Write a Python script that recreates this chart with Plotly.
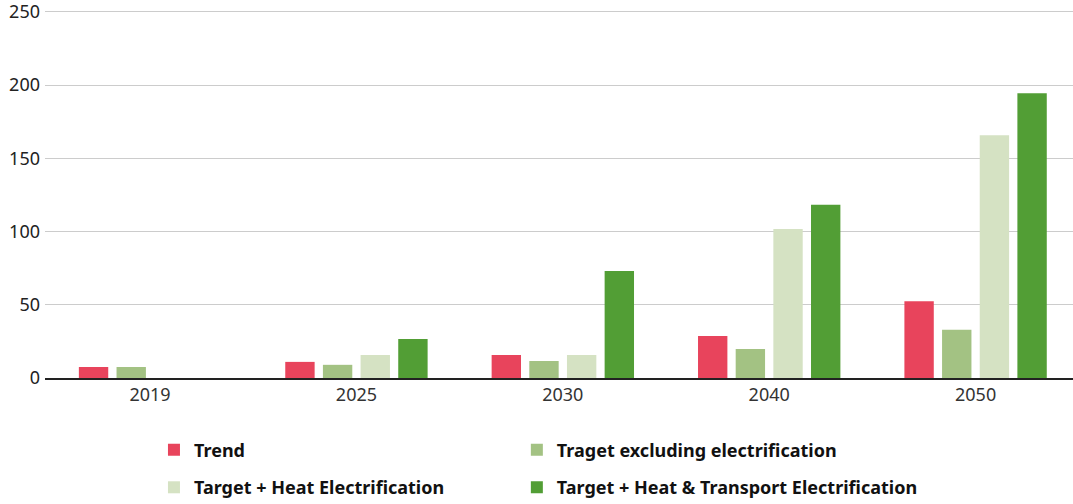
import plotly.graph_objects as go

years = ["2019", "2025", "2030", "2040", "2050"]
trend = [7.5, 11, 15.7, 28.7, 52.5]
target_excl = [7.5, 9, 11.6, 19.8, 33]
target_heat = [None, 15.7, 15.7, 101.8, 165.8]
target_heat_transport = [None, 26.6, 73, 118.3, 194.5]
y_ticks = [0, 50, 100, 150, 200, 250]

series = [
    ("Trend", trend, "#e8445c", "legend"),
    ("Traget excluding electrification", target_excl, "#a3c283", "legend2"),
    ("Target + Heat Electrification", target_heat, "#d5e2c3", "legend3"),
    ("Target + Heat & Transport Electrification", target_heat_transport, "#529e35", "legend4"),
]

fig = go.Figure()
for name, vals, col, lg in series:
    fig.add_trace(go.Bar(x=years, y=vals, name=name, legend=lg,
                         marker=dict(color=col, line=dict(width=0))))

legend_common = dict(orientation="h", xanchor="left", yanchor="middle",
                     font=dict(family="Noto Sans, sans-serif", size=18, color="#111", weight="bold"),
                     bgcolor="rgba(0,0,0,0)")

col1_x, col2_x = 0.106, 0.459
row1_y, row2_y = -0.195, -0.297

fig.update_layout(
    width=1073, height=504,
    margin=dict(l=45, r=0, t=9, b=126, autoexpand=False),
    paper_bgcolor="white", plot_bgcolor="white",
    barmode="group", bargap=0.27, bargroupgap=0.22,
    font=dict(family="Noto Sans, sans-serif", size=16, color="#333"),
    xaxis=dict(showline=True, linecolor="#222", linewidth=1.5, ticks="", automargin=False,
               range=[-0.509, 4.472], tickfont=dict(size=18, color="#333")),
    yaxis=dict(range=[0, 252], tickvals=y_ticks, gridcolor="#cccccc", gridwidth=1, zeroline=False,
               automargin=False, tickfont=dict(size=18, color="#222"), ticklabelstandoff=4,
               ticklabeloverflow="allow"),
    legend=dict(x=col1_x, y=row1_y, **legend_common),
    legend2=dict(x=col2_x, y=row1_y, **legend_common),
    legend3=dict(x=col1_x, y=row2_y, **legend_common),
    legend4=dict(x=col2_x, y=row2_y, **legend_common),
    showlegend=True,
)

fig.write_html("out.html", config={"displayModeBar": False},
               post_script="document.body.style.margin='0';")
